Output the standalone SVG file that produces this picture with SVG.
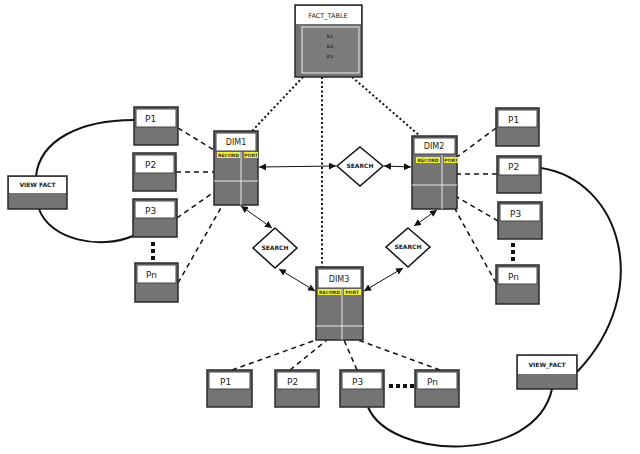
<svg xmlns="http://www.w3.org/2000/svg" width="640" height="454" viewBox="0 0 640 454">
<defs>
<style>
.box{fill:#747474;stroke:#2a2a2a;stroke-width:1.5}
.hdr{fill:#fff;stroke:#444;stroke-width:1}
.wl{stroke:#e8e8e8;stroke-width:1}
.plab{font-family:"DejaVu Sans",sans-serif;font-size:9px;fill:#222}
.dlab{font-family:"DejaVu Sans",sans-serif;font-size:8px;fill:#222;text-anchor:middle}
.small{font-family:"DejaVu Sans",sans-serif;font-size:6px;font-weight:bold;fill:#222;text-anchor:middle}
.tiny{font-family:"DejaVu Sans",sans-serif;font-size:4.5px;font-weight:bold;fill:#333;text-anchor:middle}
.yel{fill:#f2f23a}
.dash{fill:none;stroke:#111;stroke-width:1.5;stroke-dasharray:5 4}
.dot{fill:none;stroke:#111;stroke-width:2;stroke-dasharray:2 2.5}
.curve{fill:none;stroke:#111;stroke-width:2}
.arr{fill:none;stroke:#111;stroke-width:1;marker-start:url(#ah);marker-end:url(#ah)}
.dia{fill:#fff;stroke:#111;stroke-width:1.5}
.sq{fill:#111}
</style>
<marker id="ah" viewBox="0 0 10 10" refX="10" refY="5" markerWidth="7" markerHeight="7" markerUnits="userSpaceOnUse" orient="auto-start-reverse">
<path d="M0,0 L10,5 L0,10 z" fill="#111"/>
</marker>
</defs>

<g id="connectors">
<path class="dot" d="M303,77 L252,131"/>
<path class="dot" d="M322,77 L322,267"/>
<path class="dot" d="M352,77 L420,136"/>
<path class="dash" d="M178,128 L214,150"/>
<path class="dash" d="M176,172 L214,172"/>
<path class="dash" d="M177,218 L214,192"/>
<path class="dash" d="M178,283 L222,206"/>
<path class="dash" d="M496,128 L457,157"/>
<path class="dash" d="M497,174 L457,174"/>
<path class="dash" d="M498,221 L457,197"/>
<path class="dash" d="M496,283 L455,209"/>
<path class="dash" d="M232,370 L316,340"/>
<path class="dash" d="M290,370 L327,340"/>
<path class="dash" d="M357,370 L344,340"/>
<path class="dash" d="M440,370 L358,340"/>
<path class="arr" d="M259,167 L336,166"/>
<path class="arr" d="M384,166 L411,167"/>
<path class="arr" d="M241,206 L272,228"/>
<path class="arr" d="M279,269 L315,291"/>
<path class="arr" d="M437,210 L414,226"/>
<path class="arr" d="M364,291 L403,268"/>
<path class="curve" d="M134,120 C80,120 40,140 36,176"/>
<path class="curve" d="M39,209 C50,240 100,250 133,236"/>
<path class="curve" d="M541,168 C620,180 655,290 577,372"/>
<path class="curve" d="M368,407 C390,460 535,465 552,389"/>
<rect class="sq" x="151" y="242" width="4" height="4"/>
<rect class="sq" x="151" y="249" width="4" height="4"/>
<rect class="sq" x="151" y="256" width="4" height="4"/>
<rect class="sq" x="511" y="243" width="4" height="4"/>
<rect class="sq" x="511" y="250" width="4" height="4"/>
<rect class="sq" x="511" y="257" width="4" height="4"/>
<rect class="sq" x="389" y="384" width="4" height="4"/>
<rect class="sq" x="396" y="384" width="4" height="4"/>
<rect class="sq" x="403" y="384" width="4" height="4"/>
<rect class="sq" x="410" y="384" width="4" height="4"/>
</g>

<g id="fact_table">
<rect class="box" x="295" y="5" width="67" height="72"/>
<rect x="296" y="6" width="65" height="18" fill="#fff"/>
<rect x="302" y="27" width="57" height="46" fill="#7c7c7c" stroke="#f0f0f0" stroke-width="1"/>
<text class="dlab" x="328" y="18" style="font-size:6.5px">FACT_TABLE</text>
<text class="tiny" x="330" y="38">K1</text>
<text class="tiny" x="330" y="48">K2</text>
<text class="tiny" x="330" y="58">K3</text>
</g>

<g id="dim1">
<rect class="box" x="214" y="131" width="44" height="74"/>
<rect class="hdr" x="216" y="133" width="40" height="18"/>
<text class="dlab" x="236" y="145">DIM1</text>
<line class="wl" x1="241" y1="152" x2="241" y2="205"/>
<line class="wl" x1="214" y1="181" x2="258" y2="181"/>
<rect class="yel" x="217" y="152" width="23" height="6"/>
<rect class="yel" x="244" y="152" width="14" height="6"/>
<text class="tiny" x="228.5" y="157">RECORD</text>
<text class="tiny" x="251" y="157">PORT</text>
</g>

<g id="dim2">
<rect class="box" x="412" y="136" width="45" height="73"/>
<rect class="hdr" x="414" y="138" width="41" height="16"/>
<text class="dlab" x="434" y="149">DIM2</text>
<line class="wl" x1="442" y1="155" x2="442" y2="209"/>
<line class="wl" x1="412" y1="185" x2="457" y2="185"/>
<rect class="yel" x="416" y="157" width="24" height="6"/>
<rect class="yel" x="444" y="157" width="14" height="6"/>
<text class="tiny" x="428" y="162">RECORD</text>
<text class="tiny" x="451" y="162">PORT</text>
</g>

<g id="dim3">
<rect class="box" x="316" y="267" width="47" height="73"/>
<rect class="hdr" x="318" y="269" width="43" height="19"/>
<text class="dlab" x="339" y="282">DIM3</text>
<line class="wl" x1="342" y1="289" x2="342" y2="340"/>
<line class="wl" x1="316" y1="326" x2="363" y2="326"/>
<rect class="yel" x="318" y="289" width="23" height="6"/>
<rect class="yel" x="344" y="289" width="17" height="6"/>
<text class="tiny" x="329.5" y="294">RECORD</text>
<text class="tiny" x="352" y="294">PORT</text>
</g>

<g id="search1">
<polygon class="dia" points="360,147 383,166 360,186 337,166"/>
<text class="small" x="360" y="168">SEARCH</text>
</g>
<g id="search2">
<polygon class="dia" points="275,228 297,248 275,268 253,248"/>
<text class="small" x="275" y="250">SEARCH</text>
</g>
<g id="search3">
<polygon class="dia" points="408,228 430,247 408,267 386,247"/>
<text class="small" x="408" y="249">SEARCH</text>
</g>

<g id="view_fact_left">
<rect class="box" x="8" y="176" width="59" height="33"/>
<rect x="9" y="177" width="57" height="16" fill="#fff"/>
<text class="small" x="37.5" y="187">VIEW  FACT</text>
</g>
<g id="view_fact_right">
<rect class="box" x="517" y="355" width="60" height="34"/>
<rect x="518" y="356" width="58" height="18" fill="#fff"/>
<text class="small" x="547" y="367">VIEW_FACT</text>
</g>

<g id="lp1"><rect class="box" x="134" y="107" width="44" height="38"/><rect class="hdr" x="136" y="109" width="40" height="18"/><text class="plab" x="145" y="122">P1</text></g>
<g id="lp2"><rect class="box" x="133" y="153" width="43" height="38"/><rect class="hdr" x="135" y="155" width="39" height="18"/><text class="plab" x="145" y="168">P2</text></g>
<g id="lp3"><rect class="box" x="133" y="199" width="44" height="38"/><rect class="hdr" x="135" y="201" width="40" height="17"/><text class="plab" x="145" y="214">P3</text></g>
<g id="lpn"><rect class="box" x="135" y="263" width="43" height="39"/><rect class="hdr" x="137" y="265" width="39" height="18"/><text class="plab" x="146" y="278">Pn</text></g>

<g id="rp1"><rect class="box" x="496" y="108" width="43" height="38"/><rect class="hdr" x="498" y="110" width="39" height="17"/><text class="plab" x="508" y="123">P1</text></g>
<g id="rp2"><rect class="box" x="497" y="156" width="44" height="37"/><rect class="hdr" x="499" y="158" width="40" height="17"/><text class="plab" x="508" y="170">P2</text></g>
<g id="rp3"><rect class="box" x="498" y="202" width="44" height="37"/><rect class="hdr" x="500" y="204" width="40" height="17"/><text class="plab" x="510" y="217">P3</text></g>
<g id="rpn"><rect class="box" x="496" y="265" width="43" height="39"/><rect class="hdr" x="498" y="267" width="39" height="17"/><text class="plab" x="508" y="280">Pn</text></g>

<g id="bp1"><rect class="box" x="207" y="370" width="45" height="37"/><rect class="hdr" x="209" y="372" width="41" height="17"/><text class="plab" x="220" y="385">P1</text></g>
<g id="bp2"><rect class="box" x="275" y="370" width="44" height="37"/><rect class="hdr" x="277" y="372" width="40" height="17"/><text class="plab" x="287" y="385">P2</text></g>
<g id="bp3"><rect class="box" x="340" y="370" width="44" height="37"/><rect class="hdr" x="342" y="372" width="40" height="17"/><text class="plab" x="352" y="385">P3</text></g>
<g id="bpn"><rect class="box" x="415" y="370" width="44" height="37"/><rect class="hdr" x="417" y="372" width="40" height="17"/><text class="plab" x="427" y="385">Pn</text></g>
</svg>
